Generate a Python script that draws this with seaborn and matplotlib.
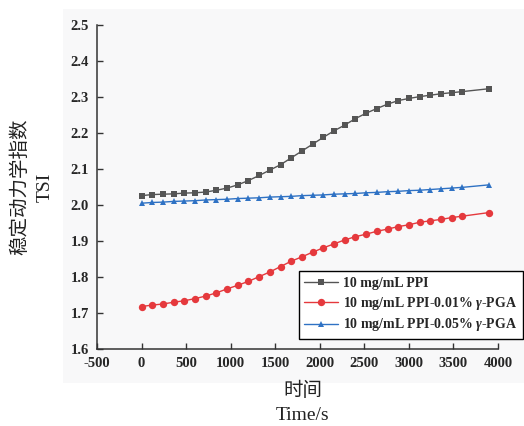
import matplotlib
matplotlib.use("Agg")
import matplotlib.pyplot as plt
import seaborn as sns
import pandas as pd
import numpy as np
from matplotlib.patches import Rectangle

# ---- data ----
time_s = [0, 120, 240, 360, 480, 600, 720, 840, 960, 1080, 1200, 1320, 1440, 1560,
          1680, 1800, 1920, 2040, 2160, 2280, 2400, 2520, 2640, 2760, 2880, 3000,
          3120, 3240, 3360, 3480, 3600, 3900]
tsi_ppi = [2.026, 2.029, 2.030, 2.031, 2.033, 2.034, 2.036, 2.041, 2.047, 2.056,
           2.068, 2.082, 2.097, 2.112, 2.131, 2.150, 2.169, 2.188, 2.206, 2.222,
           2.240, 2.255, 2.268, 2.280, 2.290, 2.296, 2.301, 2.305, 2.309, 2.312,
           2.315, 2.323]
tsi_pga001 = [1.718, 1.722, 1.725, 1.730, 1.734, 1.740, 1.747, 1.756, 1.767, 1.777,
              1.788, 1.801, 1.814, 1.829, 1.844, 1.856, 1.869, 1.881, 1.892, 1.903,
              1.912, 1.919, 1.927, 1.933, 1.940, 1.945, 1.952, 1.956, 1.960, 1.965,
              1.969, 1.979]
tsi_pga005 = [2.005, 2.007, 2.008, 2.010, 2.011, 2.012, 2.014, 2.015, 2.016, 2.018,
              2.019, 2.020, 2.022, 2.023, 2.024, 2.026, 2.027, 2.028, 2.030, 2.031,
              2.032, 2.034, 2.035, 2.037, 2.038, 2.040, 2.041, 2.043, 2.045, 2.047,
              2.049, 2.056]
labels = ["10 mg/mL PPI", r"10 mg/mL PPI-0.01% $\gamma$-PGA", r"10 mg/mL PPI-0.05% $\gamma$-PGA"]
colors = ["#555555", "#e5393d", "#2f72c4"]
markers = ["s", "o", "^"]
x_ticks = [-500, 0, 500, 1000, 1500, 2000, 2500, 3000, 3500, 4000]
y_ticks = [1.6, 1.7, 1.8, 1.9, 2.0, 2.1, 2.2, 2.3, 2.4, 2.5]

sns.set_style("ticks")
plt.rcParams['font.family'] = ['Liberation Serif', 'DejaVu Serif']
plt.rcParams['mathtext.fontset'] = 'custom'
plt.rcParams['mathtext.rm'] = 'Liberation Serif:bold'
plt.rcParams['mathtext.it'] = 'Liberation Serif:italic:bold'
plt.rcParams['mathtext.bf'] = 'Liberation Serif:bold'

df = pd.DataFrame({
    "time": time_s * 3,
    "tsi": tsi_ppi + tsi_pga001 + tsi_pga005,
    "sample": sum([[l] * len(time_s) for l in labels], []),
})

fig = plt.figure(figsize=(5.24, 4.26), dpi=100)
bg = "#f8f8f9"
fig.patches.append(Rectangle((63 / 524, 1 - 383 / 426), 1.0, (383 - 9) / 426,
                             transform=fig.transFigure, facecolor=bg, edgecolor="none", zorder=-5))
ax = fig.add_axes([97 / 524, 1 - 349 / 426, (498 - 97) / 524, (349 - 25) / 426])
ax.set_facecolor(bg)
ax.set_zorder(2)

for lab, c, m in zip(labels, colors, markers):
    sub = df[df["sample"] == lab]
    sns.lineplot(data=sub, x="time", y="tsi", ax=ax, color=c, marker=m,
                 markersize=5 if m != "o" else 5.3, markeredgewidth=0, linewidth=1.0,
                 label=lab, legend=False)

ax.set_xlim(-500, 4000)
ax.set_ylim(1.6, 2.5)
ax.set_xticks(x_ticks)
ax.set_yticks(y_ticks)
ax.set_xticklabels([str(t) for t in x_ticks], fontweight="bold", fontsize=10.5)
ax.set_yticklabels([f"{t:.1f}" for t in y_ticks], fontweight="bold", fontsize=10.5)
ax.tick_params(direction="in", length=4, width=1, color="#333333")
ax.tick_params(axis="x", pad=6)
ax.tick_params(axis="y", pad=6)
for s in ["top", "right"]:
    ax.spines[s].set_visible(False)
for s in ["left", "bottom"]:
    ax.spines[s].set_linewidth(1.1)
    ax.spines[s].set_color("#333333")
ax.set_xlabel("")
ax.set_ylabel("")

cjk = ['Noto Sans CJK SC', 'DejaVu Sans']
fig.text(20 / 524, 1 - 187 / 426, "稳定动力学指数", rotation=90, ha="center", va="center",
         fontsize=14, family=cjk, fontweight="light", color="#222222")
fig.text(45 / 524, 1 - 187 / 426, "TSI", rotation=90, ha="center", va="center",
         fontsize=14, family=['Liberation Serif'], color="#222222")
fig.text(303 / 524, 1 - 391 / 426, "时间", ha="center", va="center",
         fontsize=14, family=cjk, fontweight="light", color="#222222")
fig.text(303 / 524, 1 - 415 / 426, "Time/s", ha="center", va="center",
         fontsize=14, family=['Liberation Serif'], color="#222222")

handles, labs = ax.get_lines(), labels
leg = fig.legend(handles[:3], labs, loc="lower right",
                 bbox_to_anchor=(523 / 524, 1 - 339 / 426), bbox_transform=fig.transFigure,
                 frameon=True, fancybox=False, edgecolor="black", facecolor="white",
                 framealpha=1, prop={"family": "Liberation Serif", "weight": "bold", "size": 10},
                 handlelength=2.4, handletextpad=0.4, borderpad=0.4, labelspacing=0.35,
                 borderaxespad=0)
leg.get_frame().set_linewidth(1.0)
leg.set_zorder(10)

fig.savefig("out.png", dpi=100)
